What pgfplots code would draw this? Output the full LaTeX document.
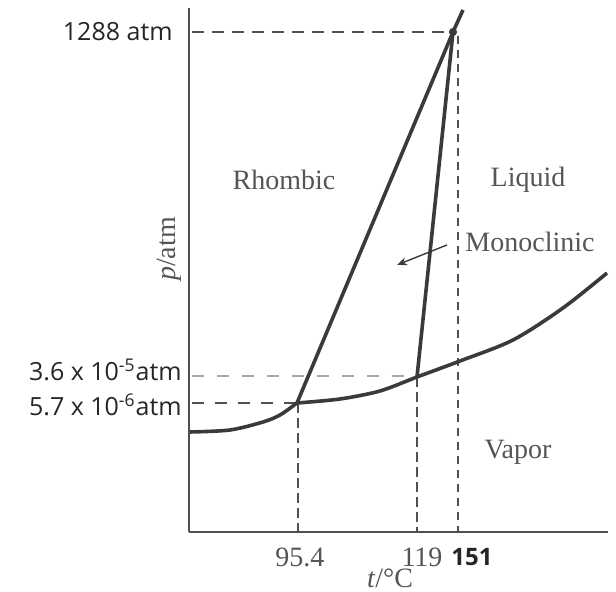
\documentclass[border=0pt]{standalone}
\usepackage{fontspec}
\setmainfont{Liberation Serif}
\newfontfamily\labsans{Open Sans}
\usepackage{pgfplots}
\pgfplotsset{compat=1.18}
\usetikzlibrary{arrows.meta}

\definecolor{curve}{HTML}{3A3A3A}
\definecolor{axisgray}{HTML}{505050}
\definecolor{txtgray}{HTML}{555555}
\definecolor{lightdash}{HTML}{A8A8A8}

\begin{document}
\begin{tikzpicture}
\begin{axis}[
    x=0.5pt, y=0.5pt,
    xmin=189, xmax=608, ymin=60, ymax=584,
    axis x line=bottom, axis y line=left,
    axis line style={-, line width=1pt, axisgray},
    major tick length=0pt,
    clip=false,
    xtick={300,422,472},
    xticklabels={95.4, 119, {\labsans\fontsize{12}{14}\selectfont\color{black!85}\bfseries 151}},
    xticklabel style={font=\fontsize{14}{16}\selectfont, text=txtgray, anchor=center, yshift=-12.5pt},
    ytick={560,222,187},
    yticklabels={{1288 atm\kern4.5pt}, {3.6 x 10\textsuperscript{-5}atm}, {5.7 x 10\textsuperscript{-6}atm}},
    yticklabel style={font=\labsans\fontsize{12.5}{14}\selectfont, text=black!85, anchor=east, inner sep=0pt, xshift=-3.5pt},
]
% invisible frame that fixes the picture size (616 x 592 px)
\path (axis cs:0,0) rectangle (axis cs:616,592);

% dashed guide lines
\addplot[axisgray, line width=0.9pt, dash pattern=on 6pt off 4pt] coordinates {(192,560) (453,560)};
\addplot[lightdash, line width=0.9pt, dash pattern=on 6pt off 6.5pt] coordinates {(192,216) (417,216)};
\addplot[axisgray, line width=0.9pt, dash pattern=on 6pt off 5.5pt] coordinates {(192,189) (297,189)};
\addplot[axisgray, line width=0.9pt, dash pattern=on 5pt off 2.5pt] coordinates {(298,189) (298,60)};
\addplot[axisgray, line width=0.9pt, dash pattern=on 5pt off 2.5pt] coordinates {(417,215) (417,60)};
\addplot[axisgray, line width=0.6pt, dash pattern=on 4pt off 3pt] coordinates {(458,556) (458,60)};

% phase boundaries
\addplot[curve, line width=1.8pt] coordinates {(297,189) (453,560)};
\addplot[curve, line width=1.8pt] coordinates {(417,215) (453,560)};
\addplot[curve, line width=1.8pt] coordinates {(453,560) (463,582)};
\addplot[curve, line width=1.8pt, smooth] coordinates {
    (190,160) (230,162) (263,170) (280,177) (297,189)};
\addplot[curve, line width=1.8pt, smooth] coordinates {
    (297,189) (340,193) (380,201) (417,215) (460,231)
    (513,252) (563,284) (607,319)};
\addplot[only marks, mark=*, mark size=1.8pt, curve] coordinates {(453,560)};

% region labels
\begin{scope}[every node/.style={font=\fontsize{14}{16}\selectfont, text=txtgray, inner sep=0pt}]
\node at (axis cs:284,412) {Rhombic};
\node at (axis cs:528,412) {Liquid};
\node at (axis cs:530,350) {Monoclinic};
\node at (axis cs:518,140) {Vapor};
\node[rotate=90] at (axis cs:169,343) {\textit{p}/atm};
\node at (axis cs:390,14) {\textit{t}/°C};
\end{scope}
\draw[-{Stealth[length=5pt,width=4pt]}, line width=0.7pt, curve] (axis cs:447,347) -- (axis cs:397,327);
\end{axis}
\end{tikzpicture}
\end{document}
